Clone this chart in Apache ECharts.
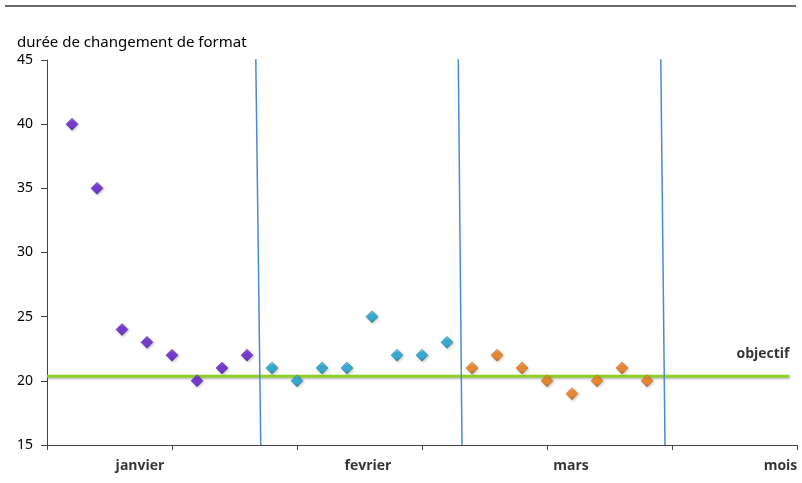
<!DOCTYPE html>
<html>
<head>
<meta charset="utf-8">
<script src="https://cdn.jsdelivr.net/npm/echarts@6/dist/echarts.min.js"></script>
<style>
  html, body { margin: 0; padding: 0; background: #fff; }
  #chart { width: 802px; height: 483px; }
</style>
</head>
<body>
<div id="chart"></div>
<script>
// Weekly changeover durations, one point per slot on the time axis
const janvier = [40, 35, 24, 23, 22, 20, 21, 22];
const fevrier = [21, 20, 21, 21, 25, 22, 22, 23];
const mars = [21, 22, 21, 20, 19, 20, 21, 20];

// Slot where each month's series starts
const monthStart = [1, 9, 17];

// Target value and the extent of its line
const objectif = 20.35;
const objectifRange = [0, 29.7];

// Month separators: [x at top, x at bottom]
const separators = [[8.35, 8.55], [16.45, 16.6], [24.55, 24.72]];

// Category labels along the time axis
const monthNames = ['janvier', 'fevrier', 'mars', 'mois'];
const monthLabelPos = [3.72, 12.84, 20.96, 29.34];

const yTicks = { min: 15, max: 45, step: 5 };
const xTicks = { min: 0, max: 30, step: 5 };

function toPoints(values, start) {
  return values.map((v, i) => [start + i, v]);
}

function diamondStyle(light, base, dark) {
  return {
    color: {
      type: 'linear', x: 0, y: 0, x2: 0, y2: 1,
      colorStops: [
        { offset: 0, color: light },
        { offset: 0.3, color: base },
        { offset: 0.7, color: base },
        { offset: 1, color: dark }
      ]
    },
    borderColor: dark,
    borderWidth: 0.5,
    shadowColor: 'rgba(0,0,0,0.3)',
    shadowBlur: 3,
    shadowOffsetX: 1,
    shadowOffsetY: 1
  };
}

const chart = echarts.init(document.getElementById('chart'), null, { renderer: 'canvas' });

const series = [
  {
    type: 'line',
    data: [[objectifRange[0], objectif], [objectifRange[1], objectif]],
    symbol: 'none',
    lineStyle: {
      color: '#8fcf2b', width: 3,
      shadowColor: 'rgba(0,0,0,0.25)', shadowBlur: 2, shadowOffsetY: 1.5
    },
    z: 2,
    silent: true
  },
  {
    type: 'scatter',
    data: [{
      value: [objectifRange[1], objectif],
      label: {
        show: true,
        formatter: 'objectif',
        position: 'top',
        align: 'right',
        offset: [0, -10],
        fontFamily: '"Open Sans", "Noto Sans", sans-serif',
        fontWeight: 'bold',
        fontSize: 14,
        color: '#000'
      }
    }],
    symbolSize: 0,
    silent: true,
    z: 3
  }
];

separators.forEach(s => {
  series.push({
    type: 'line',
    data: [[s[0], yTicks.max + 0.35], [s[1], yTicks.min]],
    symbol: 'none',
    lineStyle: { color: '#4a88da', width: 1.5 },
    z: 3,
    silent: true
  });
});

[[janvier, ['#8a4cf0', '#6218d0', '#360a80']],
 [fevrier, ['#6ad6f4', '#14a2d0', '#086488']],
 [mars, ['#ffaa50', '#f0780e', '#a04406']]].forEach((entry, k) => {
  const c = entry[1];
  series.push({
    type: 'scatter',
    data: toPoints(entry[0], monthStart[k]),
    symbol: 'diamond',
    symbolSize: [12, 12],
    itemStyle: diamondStyle(c[0], c[1], c[2]),
    z: 5
  });
});

series.push({
  type: 'scatter',
  data: monthNames.map((n, i) => ({ name: n, value: [monthLabelPos[i], yTicks.min] })),
  symbolSize: 0,
  silent: true,
  label: {
    show: true,
    position: 'bottom',
    distance: 14,
    formatter: p => p.name,
    fontFamily: '"Open Sans", "Noto Sans", sans-serif',
    fontWeight: 'bold',
    fontSize: 14,
    color: '#000'
  },
  z: 4
});

chart.setOption({
  animation: false,
  backgroundColor: '#ffffff',
  grid: { left: 47, right: 5, top: 60, bottom: 38, containLabel: false },
  title: {
    text: 'durée de changement de format',
    left: 12,
    top: 30,
    textStyle: {
      fontFamily: '"Noto Sans", "Open Sans", sans-serif',
      fontWeight: 'normal',
      fontSize: 15,
      color: '#000'
    }
  },
  graphic: [{
    type: 'line',
    shape: { x1: 5, y1: 6, x2: 796, y2: 6 },
    style: { stroke: '#3a3a3a', lineWidth: 1.5 }
  }],
  xAxis: {
    type: 'value',
    min: xTicks.min, max: xTicks.max, interval: xTicks.step,
    axisLine: { show: true, lineStyle: { color: '#444', width: 1 } },
    axisTick: { show: true, length: 5, lineStyle: { color: '#444' } },
    axisLabel: { show: false },
    splitLine: { show: false }
  },
  yAxis: {
    type: 'value',
    min: yTicks.min, max: yTicks.max, interval: yTicks.step,
    axisLine: { show: true, lineStyle: { color: '#444', width: 1 } },
    axisTick: { show: true, length: 6, lineStyle: { color: '#444' } },
    axisLabel: {
      margin: 14,
      fontFamily: '"Noto Sans", "Open Sans", sans-serif',
      fontSize: 14,
      color: '#000'
    },
    splitLine: { show: false }
  },
  series: series
});
</script>
</body>
</html>
